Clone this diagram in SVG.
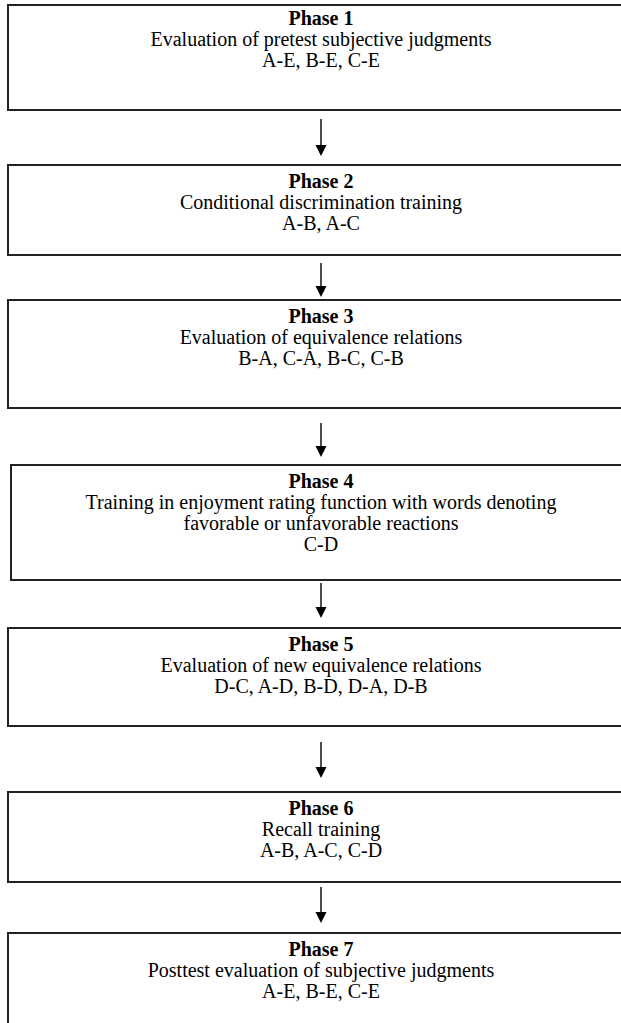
<svg xmlns="http://www.w3.org/2000/svg" width="621" height="1023" viewBox="0 0 621 1023">
<style>
.box{fill:#fff;stroke:#222;stroke-width:2}
.t{font-family:"Liberation Serif","Times New Roman",serif;font-size:20px;fill:#000;text-anchor:middle}
.b{font-weight:bold}
.c{stroke:#000;stroke-width:1.4;fill:none}
.h{fill:#000}
</style>
<g id="connectors">
<line class="c" x1="321" y1="119" x2="321" y2="147"/><path class="h" d="M315.5,145 L326.5,145 L321,156 Z"/>
<line class="c" x1="321" y1="263" x2="321" y2="288"/><path class="h" d="M315.5,286 L326.5,286 L321,297 Z"/>
<line class="c" x1="321" y1="423" x2="321" y2="448"/><path class="h" d="M315.5,446 L326.5,446 L321,457 Z"/>
<line class="c" x1="321" y1="583" x2="321" y2="609"/><path class="h" d="M315.5,607 L326.5,607 L321,618 Z"/>
<line class="c" x1="321" y1="742" x2="321" y2="769"/><path class="h" d="M315.5,767 L326.5,767 L321,778 Z"/>
<line class="c" x1="321" y1="887" x2="321" y2="914"/><path class="h" d="M315.5,912 L326.5,912 L321,923 Z"/>
</g>
<g id="phase1"><rect class="box" x="8" y="5" width="640" height="105"/>
<text class="t b" x="321" y="25">Phase 1</text>
<text class="t" x="321" y="46">Evaluation of pretest subjective judgments</text>
<text class="t" x="321" y="67">A-E, B-E, C-E</text></g>
<g id="phase2"><rect class="box" x="8" y="165" width="640" height="90"/>
<text class="t b" x="321" y="188">Phase 2</text>
<text class="t" x="321" y="209">Conditional discrimination training</text>
<text class="t" x="321" y="230">A-B, A-C</text></g>
<g id="phase3"><rect class="box" x="8" y="300" width="640" height="108"/>
<text class="t b" x="321" y="323">Phase 3</text>
<text class="t" x="321" y="344">Evaluation of equivalence relations</text>
<text class="t" x="321" y="365">B-A, C-A, B-C, C-B</text></g>
<g id="phase4"><rect class="box" x="11" y="465" width="640" height="115"/>
<text class="t b" x="321" y="488">Phase 4</text>
<text class="t" x="321" y="509">Training in enjoyment rating function with words denoting</text>
<text class="t" x="321" y="530">favorable or unfavorable reactions</text>
<text class="t" x="321" y="551">C-D</text></g>
<g id="phase5"><rect class="box" x="8" y="628" width="640" height="98"/>
<text class="t b" x="321" y="651">Phase 5</text>
<text class="t" x="321" y="672">Evaluation of new equivalence relations</text>
<text class="t" x="321" y="693">D-C, A-D, B-D, D-A, D-B</text></g>
<g id="phase6"><rect class="box" x="8" y="792" width="640" height="90"/>
<text class="t b" x="321" y="815">Phase 6</text>
<text class="t" x="321" y="836">Recall training</text>
<text class="t" x="321" y="857">A-B, A-C, C-D</text></g>
<g id="phase7"><rect class="box" x="8" y="933" width="640" height="110"/>
<text class="t b" x="321" y="956">Phase 7</text>
<text class="t" x="321" y="977">Posttest evaluation of subjective judgments</text>
<text class="t" x="321" y="998">A-E, B-E, C-E</text></g>
</svg>
